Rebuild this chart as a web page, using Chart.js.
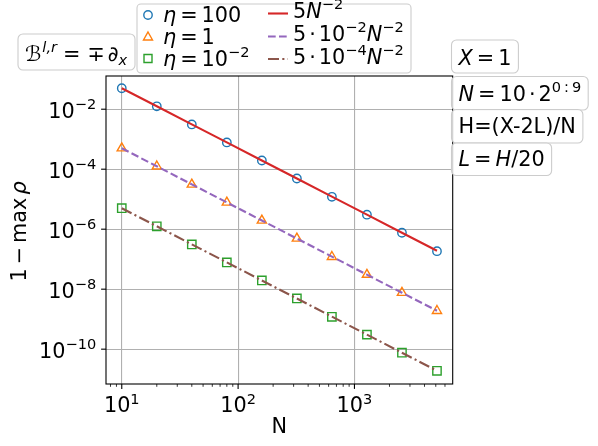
<!DOCTYPE html>
<html>
<head>
<meta charset="utf-8">
<script src="https://cdn.jsdelivr.net/npm/chart.js@4"></script>
<style>
  html, body { margin:0; padding:0; background:#fff; }
  #wrap { width:598px; height:446px; }
</style>
</head>
<body>
<div id="wrap"><canvas id="conv" width="598" height="446"></canvas></div>
<script>
// grid sizes N = 10*2^(0:9)
const Nvals   = [10, 20, 40, 80, 160, 320, 640, 1280, 2560, 5120];
// 1 - max rho
const eta100  = [5.0e-2, 1.25e-2, 3.1e-3, 7.8e-4, 1.95e-4, 4.9e-5, 1.2e-5, 3.05e-6, 7.6e-7, 1.85e-7];
const eta1    = [5.0e-4, 1.25e-4, 3.1e-5, 7.8e-6, 1.95e-6, 4.9e-7, 1.2e-7, 3.05e-8, 7.6e-9, 1.9e-9];
const eta1em2 = [5.0e-6, 1.25e-6, 3.1e-7, 7.8e-8, 1.95e-8, 4.9e-9, 1.2e-9, 3.05e-10, 7.6e-11, 1.9e-11];
// reference slopes
const ref5    = [5.0e-2, 1.25e-2, 3.13e-3, 7.81e-4, 1.95e-4, 4.88e-5, 1.22e-5, 3.05e-6, 7.63e-7, 1.91e-7];
const ref5em2 = [5.0e-4, 1.25e-4, 3.13e-5, 7.81e-6, 1.95e-6, 4.88e-7, 1.22e-7, 3.05e-8, 7.63e-9, 1.91e-9];
const ref5em4 = [5.0e-6, 1.25e-6, 3.13e-7, 7.81e-8, 1.95e-8, 4.88e-9, 1.22e-9, 3.05e-10, 7.63e-11, 1.91e-11];

const xMajor = [10, 100, 1000];
const xMinor = [8, 9, 20, 30, 40, 50, 60, 70, 80, 90, 200, 300, 400, 500, 600, 700, 800, 900, 2000, 3000, 4000, 5000, 6000];
const yMajor = [1e-10, 1e-8, 1e-6, 1e-4, 1e-2];

const FS = 20.8;
const FONT = '"DejaVu Sans"';
const pts = arr => Nvals.map((n, i) => ({ x: n, y: arr[i] }));

// text with italic / superscript / subscript pieces; numbers are gaps in px
function rich(ctx, segs, x, y, fs, align) {
  const parts = segs.map(s => {
    if (typeof s === 'number') return { gap: s };
    const t = s[0], f = s[1] || '';
    const small = f.includes('^') || f.includes('_');
    const font = (f.includes('i') ? 'italic ' : '') + (small ? fs * 0.7 : fs) + 'px ' + FONT;
    ctx.font = font;
    return { t, font, w: ctx.measureText(t).width,
      dy: f.includes('^') ? -fs * 0.42 : f.includes('_') ? fs * 0.2 : 0 };
  });
  const W = parts.reduce((s, p) => s + (p.gap != null ? p.gap : p.w), 0);
  let cx = align === 'center' ? x - W / 2 : align === 'right' ? x - W : x;
  ctx.textAlign = 'left'; ctx.textBaseline = 'alphabetic'; ctx.fillStyle = '#000';
  parts.forEach(p => {
    if (p.gap != null) { cx += p.gap; return; }
    ctx.font = p.font; ctx.fillText(p.t, cx, y + p.dy); cx += p.w;
  });
  return W;
}

function measure(ctx, segs, fs) {
  let w = 0;
  segs.forEach(s => {
    if (typeof s === 'number') { w += s; return; }
    const f = s[1] || '';
    const small = f.includes('^') || f.includes('_');
    ctx.font = (f.includes('i') ? 'italic ' : '') + (small ? fs * 0.7 : fs) + 'px ' + FONT;
    w += ctx.measureText(s[0]).width;
  });
  return w;
}

function rbox(ctx, x, y, w, h, r) {
  ctx.beginPath();
  ctx.roundRect(x, y, w, h, r);
  ctx.fillStyle = 'rgba(255,255,255,0.8)';
  ctx.fill();
  ctx.strokeStyle = '#cccccc';
  ctx.lineWidth = 1.1;
  ctx.stroke();
}

function seg(ctx, x1, y1, x2, y2) {
  ctx.beginPath(); ctx.moveTo(x1, y1); ctx.lineTo(x2, y2); ctx.stroke();
}

const expLabel = v => [['10'], [String(Math.round(Math.log10(v))).replace('-', '\u2212'), '^']];

const deco = {
  id: 'deco',
  afterDraw(chart) {
    const ctx = chart.ctx, a = chart.chartArea;
    const xs = chart.scales.x, ys = chart.scales.y;
    ctx.save();
    // frame
    ctx.strokeStyle = '#000'; ctx.lineWidth = 1.1;
    ctx.strokeRect(a.left, a.top, a.right - a.left, a.bottom - a.top);
    // x ticks
    xMajor.forEach(v => {
      const px = xs.getPixelForValue(v);
      ctx.lineWidth = 1.1; seg(ctx, px, a.bottom, px, a.bottom + 4.9);
      rich(ctx, expLabel(v), px, a.bottom + 28.3, FS, 'center');
    });
    xMinor.forEach(v => {
      const px = xs.getPixelForValue(v);
      ctx.lineWidth = 0.8; ctx.strokeStyle = '#000';
      seg(ctx, px, a.bottom, px, a.bottom + 2.8);
    });
    // y ticks
    yMajor.forEach(v => {
      const py = ys.getPixelForValue(v);
      ctx.lineWidth = 1.1; ctx.strokeStyle = '#000';
      seg(ctx, a.left - 4.9, py, a.left, py);
      rich(ctx, expLabel(v), a.left - 9.8, py + 9, FS, 'right');
    });
    // axis titles
    rich(ctx, [['N']], (a.left + a.right) / 2, 433, FS, 'center');
    ctx.save();
    ctx.translate(25.5, 231.5);
    ctx.rotate(-Math.PI / 2);
    rich(ctx, [['1'], 4, ['\u2212'], 4, ['max'], 3, ['\u03c1', 'i']], 0, 0, FS, 'center');
    ctx.restore();

    // boundary operator box
    rbox(ctx, 18, 34, 117, 36, 5);
    rich(ctx, [['\u212c'], 1, ['l,r', 'i^'], 6, ['='], 7, ['\u2213'], 3, ['\u2202'], ['x', 'i_']], 25, 61, FS, 'left');

    // legend
    rbox(ctx, 137, 4, 274, 69, 4);
    const rowsL = [
      { segs: [['\u03b7', 'i'], 4, ['='], 4, ['100']], color: '#1f77b4', style: 'circle', base: 22 },
      { segs: [['\u03b7', 'i'], 4, ['='], 4, ['1']], color: '#ff7f0e', style: 'triangle', base: 43.5 },
      { segs: [['\u03b7', 'i'], 4, ['='], 4, ['10'], ['\u22122', '^']], color: '#2ca02c', style: 'rect', base: 65.5 }
    ];
    rowsL.forEach(r => {
      const cy = r.base - 7;
      ctx.strokeStyle = r.color; ctx.lineWidth = 1.4; ctx.setLineDash([]);
      ctx.beginPath();
      if (r.style === 'circle') ctx.arc(148, cy, 4.2, 0, Math.PI * 2);
      else if (r.style === 'triangle') { ctx.moveTo(148, cy - 4.5); ctx.lineTo(152.5, cy + 3.5); ctx.lineTo(143.5, cy + 3.5); ctx.closePath(); }
      else ctx.rect(144, cy - 4, 8, 8);
      ctx.stroke();
      rich(ctx, r.segs, 163, r.base, FS, 'left');
    });
    const rowsR = [
      { segs: [['5'], ['N', 'i'], ['\u22122', '^']], color: '#d62728', dash: [], base: 18 },
      { segs: [['5'], 3, ['\u00b7'], 3, ['10'], ['\u22122', '^'], ['N', 'i'], ['\u22122', '^']], color: '#9467bd', dash: [7.7, 3.3], base: 41 },
      { segs: [['5'], 3, ['\u00b7'], 3, ['10'], ['\u22124', '^'], ['N', 'i'], ['\u22122', '^']], color: '#8c564b', dash: [11, 3.3, 2.1, 3.3], base: 63.5 }
    ];
    rowsR.forEach(r => {
      const cy = r.base - 4.5;
      ctx.strokeStyle = r.color; ctx.lineWidth = 2.1; ctx.setLineDash(r.dash);
      seg(ctx, 268, cy, 288, cy);
      ctx.setLineDash([]);
      rich(ctx, r.segs, 293, r.base, FS, 'left');
    });

    // parameter boxes
    const boxes = [
      { segs: [['X', 'i'], 4, ['='], 4, ['1']], top: 40, h: 33, base: 64.5 },
      { segs: [['N', 'i'], 4, ['='], 4, ['10'], 3, ['\u00b7'], 3, ['2'], ['0', '^'], 3, [':', '^'], 3, ['9', '^']], top: 76.5, h: 33.5, base: 101 },
      { segs: [['H=(X-2L)/N']], top: 109.5, h: 33.5, base: 133 },
      { segs: [['L', 'i'], 4, ['='], 4, ['H', 'i'], ['/20']], top: 143, h: 32.5, base: 166 }
    ];
    boxes.forEach(b => {
      const w = measure(ctx, b.segs, FS);
      rbox(ctx, 451.5, b.top, w + 14, b.h, 5);
      rich(ctx, b.segs, 458.5, b.base, FS, 'left');
    });
    ctx.restore();
  }
};

const markerSet = (label, arr, color, style, r) => ({
  label, data: pts(arr), showLine: false, order: 2,
  pointStyle: style, pointRadius: r, pointHoverRadius: r,
  pointBorderColor: color, pointBackgroundColor: 'rgba(0,0,0,0)', pointBorderWidth: 1.4
});
const lineSet = (label, arr, color, dash) => ({
  label, data: pts(arr), showLine: true, order: 1,
  borderColor: color, borderWidth: 2.1, borderDash: dash, pointRadius: 0, fill: false, tension: 0
});

new Chart(document.getElementById('conv'), {
  type: 'scatter',
  data: {
    datasets: [
      markerSet('eta=100', eta100, '#1f77b4', 'circle', 4.2),
      markerSet('eta=1', eta1, '#ff7f0e', 'triangle', 5.3),
      markerSet('eta=1e-2', eta1em2, '#2ca02c', 'rect', 5.9),
      lineSet('5N^-2', ref5, '#d62728', []),
      lineSet('5e-2 N^-2', ref5em2, '#9467bd', [7.7, 3.3]),
      lineSet('5e-4 N^-2', ref5em4, '#8c564b', [11, 3.3, 2.1, 3.3])
    ]
  },
  options: {
    responsive: false,
    animation: false,
    layout: { padding: { left: 0, top: 76, right: 145.3, bottom: 0 } },
    plugins: { legend: { display: false }, tooltip: { enabled: false } },
    scales: {
      x: {
        type: 'logarithmic', position: 'bottom', min: 7.32, max: 6990,
        afterBuildTicks: ax => { ax.ticks = xMajor.map(v => ({ value: v, major: true })); },
        afterFit: ax => { ax.height = 62; },
        ticks: { display: false },
        grid: { color: '#b0b0b0', lineWidth: 1.1, drawTicks: false },
        border: { display: false }
      },
      y: {
        type: 'logarithmic', position: 'left', min: 6.9e-12, max: 0.128,
        afterBuildTicks: ax => { ax.ticks = yMajor.map(v => ({ value: v, major: true })); },
        afterFit: ax => { ax.width = 106; },
        ticks: { display: false },
        grid: { color: '#b0b0b0', lineWidth: 1.1, drawTicks: false },
        border: { display: false }
      }
    }
  },
  plugins: [deco]
});
</script>
</body>
</html>
